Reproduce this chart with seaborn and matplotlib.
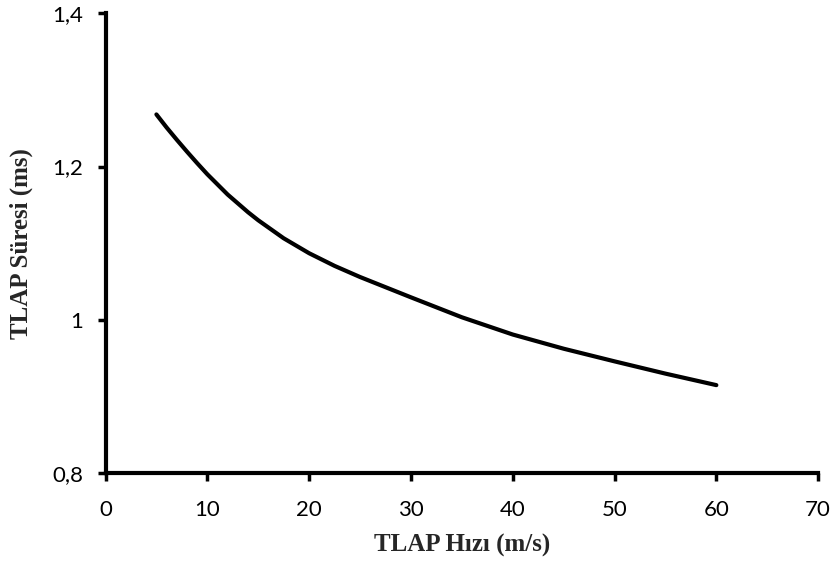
import matplotlib
matplotlib.use("Agg")
import matplotlib.pyplot as plt
import seaborn as sns
import pandas as pd
from matplotlib.ticker import FixedLocator, FixedFormatter

# Data
speed = [5, 6, 7, 8, 9, 10, 12, 14, 15, 17.5, 20, 22.5, 25, 30, 35, 40,
         45, 50, 55, 60]
duration = [1.268, 1.251, 1.235, 1.2195, 1.2045, 1.190, 1.1635, 1.1405,
            1.130, 1.1065, 1.087, 1.0705, 1.056, 1.0295, 1.0035, 0.981,
            0.9625, 0.946, 0.930, 0.915]
x_ticks = [0, 10, 20, 30, 40, 50, 60, 70]
y_ticks = [0.8, 1.0, 1.2, 1.4]
y_tick_labels = ["0,8", "1", "1,2", "1,4"]
x_label = "TLAP Hızı (m/s)"
y_label = "TLAP Süresi (ms)"

sns.set_style("ticks")
plt.rcParams['font.family'] = ['Lato', 'DejaVu Sans']

df = pd.DataFrame({"speed": speed, "duration": duration})

fig = plt.figure(figsize=(8.4, 5.74), dpi=100)
ax = fig.add_axes([0.1256, 0.1754, 0.974 - 0.1256, 0.977 - 0.1754])

sns.lineplot(data=df, x="speed", y="duration", ax=ax, color="black",
             linewidth=3, solid_capstyle="round", solid_joinstyle="round")

ax.set_xlim(0, 70)
ax.set_ylim(0.8, 1.4)
ax.xaxis.set_major_locator(FixedLocator(x_ticks))
ax.set_xticklabels([str(t) for t in x_ticks])
ax.yaxis.set_major_locator(FixedLocator(y_ticks))
ax.yaxis.set_major_formatter(FixedFormatter(y_tick_labels))

for side in ["top", "right"]:
    ax.spines[side].set_visible(False)
for side in ["left", "bottom"]:
    ax.spines[side].set_linewidth(3)
    ax.spines[side].set_color("black")

ax.tick_params(axis="both", direction="out", length=6, width=2.5,
               colors="black", labelsize=16, pad=10)
ax.tick_params(axis="x", pad=13)

ax.set_xlabel(x_label, family="Liberation Serif", fontweight="bold",
              fontsize=18, labelpad=10)
ax.set_ylabel(y_label, family="Liberation Serif", fontweight="bold",
              fontsize=18, labelpad=14)

fig.savefig("out.png", dpi=100)
